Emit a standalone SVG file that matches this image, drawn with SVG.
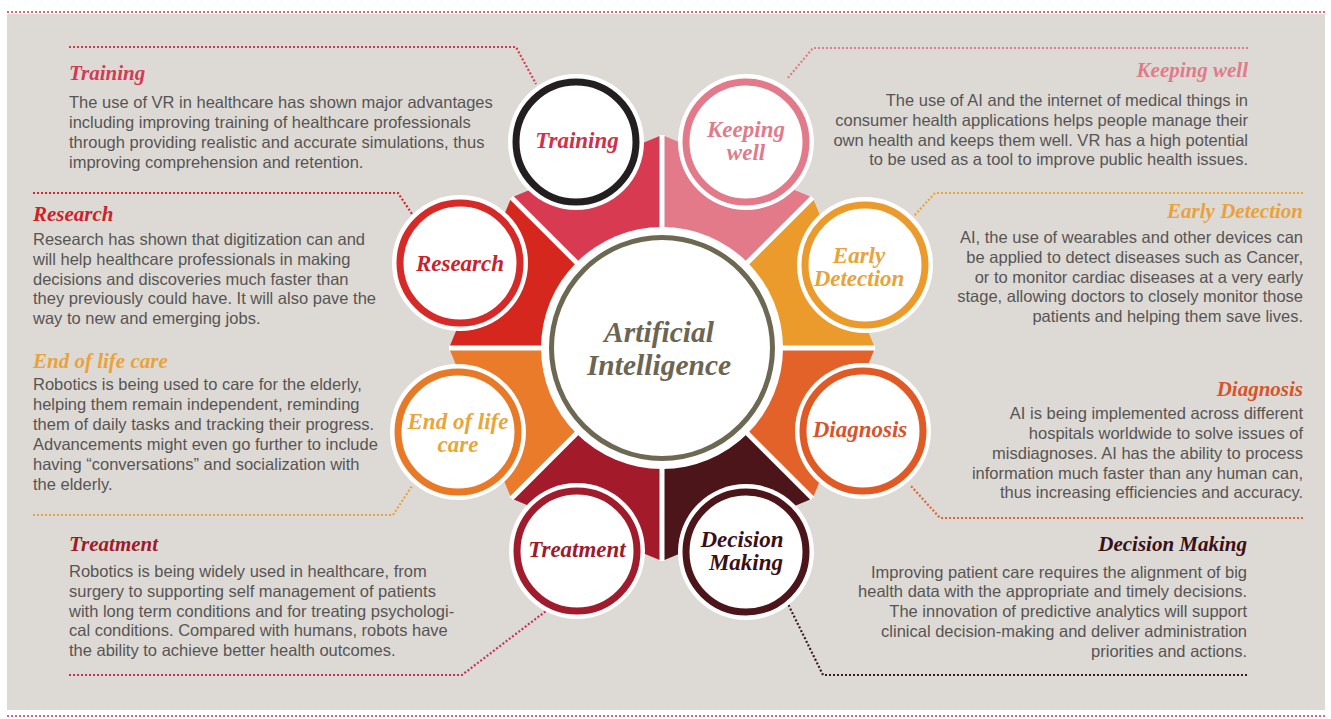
<svg xmlns="http://www.w3.org/2000/svg" width="1331" height="719" viewBox="0 0 1331 719">
<style>
.body{font-family:"Liberation Sans",Arial,Helvetica,sans-serif;font-size:16.5px;fill:#575454}
.r{text-anchor:end}
.ttl{font-family:"Liberation Serif","Times New Roman",serif;font-weight:bold;font-style:italic;font-size:21px}
.lbl{font-family:"Liberation Serif","Times New Roman",serif;font-weight:bold;font-style:italic;font-size:23px;text-anchor:middle}
.big{font-size:29.5px;fill:#6b6651}
.halo{fill:#fff}
.ring{fill:#fff;stroke-width:7}
.dot{fill:none;stroke-width:2.2;stroke-dasharray:2 2}
.div{stroke:#fff;stroke-width:5}
</style>
<rect x="0" y="0" width="1331" height="719" fill="#ffffff"/>
<rect x="7" y="14" width="1318" height="696" fill="#dddad5"/>
<line class="dot" x1="7" y1="12" x2="1325" y2="12" stroke="#e0667c"/>
<line class="dot" x1="7" y1="716" x2="1325" y2="716" stroke="#e0667c"/>

<g id="wheel">
  <polygon points="662,348 511.4,197.4 662,135" fill="#d83a52"/>
  <polygon points="662,348 662,135 812.6,197.4" fill="#e27a8a"/>
  <polygon points="662,348 812.6,197.4 875,348" fill="#eb9a2c"/>
  <polygon points="662,348 875,348 812.6,498.6" fill="#e2622a"/>
  <polygon points="662,348 812.6,498.6 662,561" fill="#4b1519"/>
  <polygon points="662,348 662,561 511.4,498.6" fill="#a31a2b"/>
  <polygon points="662,348 511.4,498.6 449,348" fill="#e97b2a"/>
  <polygon points="662,348 449,348 511.4,197.4" fill="#d6271f"/>
  <line class="div" x1="662" y1="348" x2="875" y2="348"/>
  <line class="div" x1="662" y1="348" x2="812.6" y2="498.6"/>
  <line class="div" x1="662" y1="348" x2="662" y2="561"/>
  <line class="div" x1="662" y1="348" x2="511.4" y2="498.6"/>
  <line class="div" x1="662" y1="348" x2="449" y2="348"/>
  <line class="div" x1="662" y1="348" x2="511.4" y2="197.4"/>
  <line class="div" x1="662" y1="348" x2="662" y2="135"/>
  <line class="div" x1="662" y1="348" x2="812.6" y2="197.4"/>
</g>

<g id="connectors">
  <polyline class="dot" stroke="#d23a55" points="69,47 516,47 536,84"/>
  <polyline class="dot" stroke="#e07b8b" points="1248,48 813,48 787,79"/>
  <polyline class="dot" stroke="#cf2a2a" points="33,193 398,193 412,214"/>
  <polyline class="dot" stroke="#e9a53a" points="1303,193 935,193 914,216"/>
  <polyline class="dot" stroke="#e9a040" points="33,515 393,515 412,486"/>
  <polyline class="dot" stroke="#e0652e" points="1303,518 940,518 911,486"/>
  <polyline class="dot" stroke="#c8305a" points="69,675 462,675 546,611"/>
  <polyline class="dot" stroke="#3a1a1e" points="1247,675 823,675 788,604"/>
</g>

<g id="ai-center">
  <circle cx="662" cy="348" r="121" fill="#fff"/>
  <circle cx="662" cy="348" r="110.5" fill="#fff" stroke="#6d6852" stroke-width="5"/>
  <text class="lbl big" x="659" y="342">Artificial</text>
  <text class="lbl big" x="659" y="375">Intelligence</text>
</g>

<g id="node-training">
  <circle class="halo" cx="576" cy="142" r="68"/>
  <circle class="ring" cx="576" cy="142" r="60" stroke="#231f20" stroke-width="8"/>
  <text class="lbl" x="577" y="148" fill="#d0304a">Training</text>
</g>
<g id="node-keeping-well">
  <circle class="halo" cx="746" cy="142" r="68"/>
  <circle class="ring" cx="746" cy="142" r="60" stroke="#e27a8a"/>
  <text class="lbl" x="746" y="137" fill="#e07b8b">Keeping</text>
  <text class="lbl" x="746" y="160" fill="#e07b8b">well</text>
</g>
<g id="node-early-detection">
  <circle class="halo" cx="865" cy="265" r="68"/>
  <circle class="ring" cx="865" cy="265" r="60" stroke="#eb9a2c"/>
  <text class="lbl" x="859" y="263" fill="#e8a33a">Early</text>
  <text class="lbl" x="859" y="286" fill="#e8a33a">Detection</text>
</g>
<g id="node-diagnosis">
  <circle class="halo" cx="863" cy="431" r="68"/>
  <circle class="ring" cx="863" cy="431" r="60" stroke="#e05a26"/>
  <text class="lbl" x="860" y="437" fill="#d9532a">Diagnosis</text>
</g>
<g id="node-decision-making">
  <circle class="halo" cx="746" cy="552" r="68"/>
  <circle class="ring" cx="746" cy="552" r="60" stroke="#4b1519"/>
  <text class="lbl" x="742" y="547" fill="#3a1016">Decision</text>
  <text class="lbl" x="746" y="570" fill="#3a1016">Making</text>
</g>
<g id="node-treatment">
  <circle class="halo" cx="577" cy="551" r="68"/>
  <circle class="ring" cx="577" cy="551" r="60" stroke="#a01b2b"/>
  <text class="lbl" x="577" y="557" fill="#9e1b2b">Treatment</text>
</g>
<g id="node-end-of-life-care">
  <circle class="halo" cx="458" cy="432" r="68"/>
  <circle class="ring" cx="458" cy="432" r="60" stroke="#e87a27"/>
  <text class="lbl" x="458" y="429" fill="#e8a53a">End of life</text>
  <text class="lbl" x="458" y="452" fill="#e8a53a">care</text>
</g>
<g id="node-research">
  <circle class="halo" cx="460" cy="263" r="68"/>
  <circle class="ring" cx="460" cy="263" r="60" stroke="#d52a27"/>
  <text class="lbl" x="460" y="271" fill="#c8232d">Research</text>
</g>

<g id="text-training">
  <text class="ttl" x="69" y="80" fill="#d23a55">Training</text>
  <text class="body" x="69" y="108">The use of VR in healthcare has shown major advantages</text>
  <text class="body" x="69" y="128">including improving training of healthcare professionals</text>
  <text class="body" x="69" y="148">through providing realistic and accurate simulations, thus</text>
  <text class="body" x="69" y="168">improving comprehension and retention.</text>
</g>
<g id="text-keeping-well">
  <text class="ttl r" x="1248" y="77" fill="#e07b8b">Keeping well</text>
  <text class="body r" x="1248" y="106">The use of AI and the internet of medical things in</text>
  <text class="body r" x="1248" y="126">consumer health applications helps people manage their</text>
  <text class="body r" x="1248" y="146">own health and keeps them well. VR has a high potential</text>
  <text class="body r" x="1248" y="165">to be used as a tool to improve public health issues.</text>
</g>
<g id="text-research">
  <text class="ttl" x="33" y="221" fill="#cc2229">Research</text>
  <text class="body" x="33" y="245">Research has shown that digitization can and</text>
  <text class="body" x="33" y="265">will help healthcare professionals in making</text>
  <text class="body" x="33" y="285">decisions and discoveries much faster than</text>
  <text class="body" x="33" y="304">they previously could have. It will also pave the</text>
  <text class="body" x="33" y="324">way to new and emerging jobs.</text>
</g>
<g id="text-early-detection">
  <text class="ttl r" x="1303" y="218" fill="#e9a23b">Early Detection</text>
  <text class="body r" x="1303" y="243">AI, the use of wearables and other devices can</text>
  <text class="body r" x="1303" y="263">be applied to detect diseases such as Cancer,</text>
  <text class="body r" x="1303" y="283">or to monitor cardiac diseases at a very early</text>
  <text class="body r" x="1303" y="302">stage, allowing doctors to closely monitor those</text>
  <text class="body r" x="1303" y="322">patients and helping them save lives.</text>
</g>
<g id="text-end-of-life-care">
  <text class="ttl" x="33" y="368" fill="#e9a23b">End of life care</text>
  <text class="body" x="33" y="390">Robotics is being used to care for the elderly,</text>
  <text class="body" x="33" y="410">helping them remain independent, reminding</text>
  <text class="body" x="33" y="430">them of daily tasks and tracking their progress.</text>
  <text class="body" x="33" y="450">Advancements might even go further to include</text>
  <text class="body" x="33" y="470">having “conversations” and socialization with</text>
  <text class="body" x="33" y="490">the elderly.</text>
</g>
<g id="text-diagnosis">
  <text class="ttl r" x="1303" y="396" fill="#d9532a">Diagnosis</text>
  <text class="body r" x="1303" y="419">AI is being implemented across different</text>
  <text class="body r" x="1303" y="439">hospitals worldwide to solve issues of</text>
  <text class="body r" x="1303" y="459">misdiagnoses. AI has the ability to process</text>
  <text class="body r" x="1303" y="479">information much faster than any human can,</text>
  <text class="body r" x="1303" y="498">thus increasing efficiencies and accuracy.</text>
</g>
<g id="text-treatment">
  <text class="ttl" x="69" y="551" fill="#9e1b2b">Treatment</text>
  <text class="body" x="69" y="577">Robotics is being widely used in healthcare, from</text>
  <text class="body" x="69" y="597">surgery to supporting self management of patients</text>
  <text class="body" x="69" y="617">with long term conditions and for treating psychologi-</text>
  <text class="body" x="69" y="636">cal conditions. Compared with humans, robots have</text>
  <text class="body" x="69" y="656">the ability to achieve better health outcomes.</text>
</g>
<g id="text-decision-making">
  <text class="ttl r" x="1247" y="551" fill="#3a1016">Decision Making</text>
  <text class="body r" x="1247" y="578">Improving patient care requires the alignment of big</text>
  <text class="body r" x="1247" y="597">health data with the appropriate and timely decisions.</text>
  <text class="body r" x="1247" y="617">The innovation of predictive analytics will support</text>
  <text class="body r" x="1247" y="637">clinical decision-making and deliver administration</text>
  <text class="body r" x="1247" y="657">priorities and actions.</text>
</g>
</svg>
